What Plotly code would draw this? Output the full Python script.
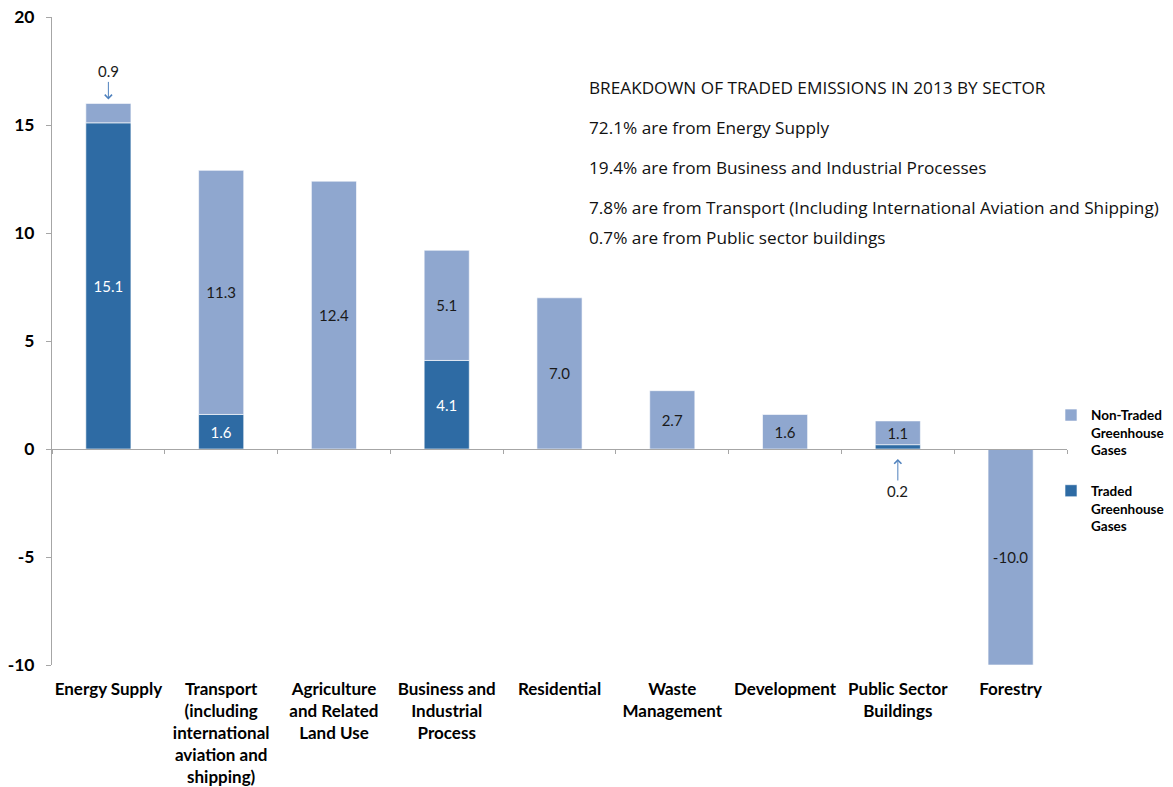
import plotly.graph_objects as go

# Sector categories (multi-line labels) and emissions by gas type
categories = [
    "Energy Supply",
    "Transport<br>(including<br>international<br>aviation and<br>shipping)",
    "Agriculture<br>and Related<br>Land Use",
    "Business and<br>Industrial<br>Process",
    "Residential",
    "Waste<br>Management",
    "Development",
    "Public Sector<br>Buildings",
    "Forestry",
]
traded = [15.1, 1.6, 0.0, 4.1, 0.0, 0.0, 0.0, 0.2, 0.0]
non_traded = [0.9, 11.3, 12.4, 5.1, 7.0, 2.7, 1.6, 1.1, -10.0]

# Value-axis ticks (labels written with a plain hyphen)
y_ticks = [-10, -5, 0, 5, 10, 15, 20]
y_tick_labels = ["-10", "-5", "0", "5", "10", "15", "20"]

# Segments too thin for an inside label get an arrow callout instead
callout_traded = [7]
callout_non_traded = [0]

breakdown_lines = [
    "BREAKDOWN OF TRADED EMISSIONS IN 2013 BY SECTOR",
    "72.1% are from Energy Supply",
    "19.4% are from Business and Industrial Processes",
    "7.8% are from Transport (Including International Aviation and Shipping)",
    "0.7% are from Public sector buildings",
]

DARK = "#2E6BA4"
LIGHT = "#8FA7CF"
AXIS = "#A6A6A6"
FONT = "Lato, 'Open Sans', sans-serif"
TEXT_FONT = "'Open Sans', Lato, sans-serif"

xs = list(range(len(categories)))


def label_text(values, skip):
    out = []
    for i, v in enumerate(values):
        if v == 0 or i in skip:
            out.append("")
        else:
            out.append(f"{v:.1f}")
    return out


fig = go.Figure()
fig.add_trace(go.Bar(
    x=xs, y=traded, name="Traded<br>Greenhouse<br>Gases", legendgroup="traded",
    legendrank=2,
    marker=dict(color=DARK, line=dict(color="rgba(255,255,255,0.6)", width=1)),
    text=label_text(traded, callout_traded), textposition="inside",
    insidetextanchor="middle", textangle=0,
    textfont=dict(color="white", size=15, family=FONT),
    width=0.4,
))
fig.add_trace(go.Bar(
    x=xs, y=non_traded, name="Non-Traded<br>Greenhouse<br>Gases", legendgroup="nontraded",
    legendrank=1,
    marker=dict(color=LIGHT, line=dict(color="rgba(255,255,255,0.6)", width=1)),
    text=label_text(non_traded, callout_non_traded), textposition="inside",
    insidetextanchor="middle", textangle=0,
    textfont=dict(color="#1a1a1a", size=15, family=FONT),
    width=0.4,
))

# Invisible trace carrying the category divider ticks along the zero line
fig.add_trace(go.Scatter(x=[xs[0], xs[-1]], y=[0, 0], xaxis="x2", mode="lines",
                         line=dict(width=0), hoverinfo="skip", showlegend=False))

# Arrow callouts for the thin segments
for i in callout_non_traded:
    top = traded[i] + non_traded[i]
    fig.add_annotation(x=i, y=top, text=f"{non_traded[i]:.1f}", showarrow=True,
                       ax=0, ay=-32, arrowhead=4, arrowsize=1.4, arrowwidth=1,
                       arrowcolor="#4F81BD", standoff=4,
                       font=dict(size=15, color="#1a1a1a", family=FONT))
for i in callout_traded:
    fig.add_annotation(x=i, y=0, text=f"{traded[i]:.1f}", showarrow=True,
                       ax=0, ay=42, arrowhead=4, arrowsize=1.4, arrowwidth=1,
                       arrowcolor="#4F81BD", standoff=10,
                       font=dict(size=15, color="#1a1a1a", family=FONT))

# Breakdown text block
text_y = [0.891, 0.829, 0.768, 0.706, 0.659]
for line, ty in zip(breakdown_lines, text_y):
    fig.add_annotation(xref="paper", yref="paper", x=0.527, y=ty, text=line,
                       showarrow=False, xanchor="left", yanchor="middle",
                       font=dict(size=17.2, color="#111111", family=TEXT_FONT))

fig.update_layout(
    width=1173, height=787,
    margin=dict(l=52, r=106, t=17, b=122, autoexpand=False),
    paper_bgcolor="white", plot_bgcolor="white",
    barmode="relative", bargap=0.6,
    font=dict(family=FONT, color="black"),
    showlegend=True,
    legend=dict(xref="container", yref="container", x=0.896, y=0.492,
                xanchor="left", yanchor="top",
                font=dict(size=13.5, family=FONT, color="black", weight="bold"),
                valign="top", traceorder="grouped", tracegroupgap=20,
                itemwidth=30, bgcolor="rgba(0,0,0,0)"),
    xaxis=dict(
        range=[-0.5, len(categories) - 0.5], automargin=False,
        tickmode="array", tickvals=xs, ticktext=categories,
        showline=False, ticks="", showgrid=False, zeroline=False,
        tickfont=dict(size=17, family=FONT, color="black", weight="bold"),
        ticklabelstandoff=12,
    ),
    xaxis2=dict(
        overlaying="x", matches="x", anchor="free", position=1 / 3, side="bottom",
        automargin=False,
        tickmode="array", tickvals=[k - 0.5 for k in range(len(categories) + 1)],
        showticklabels=False, ticks="outside", ticklen=4, tickcolor=AXIS,
        showline=True, linecolor=AXIS, linewidth=1, showgrid=False, zeroline=False,
    ),
    yaxis=dict(
        range=[y_ticks[0], y_ticks[-1]], tickmode="array",
        tickvals=y_ticks, ticktext=y_tick_labels,
        automargin=False,
        showline=True, linecolor=AXIS, linewidth=1, ticks="outside", ticklen=5,
        tickcolor=AXIS, showgrid=False, zeroline=False,
        tickfont=dict(size=17.5, family=FONT, color="black", weight="bold"),
        ticklabelstandoff=8,
    ),
)

fig.write_html("out.html")
